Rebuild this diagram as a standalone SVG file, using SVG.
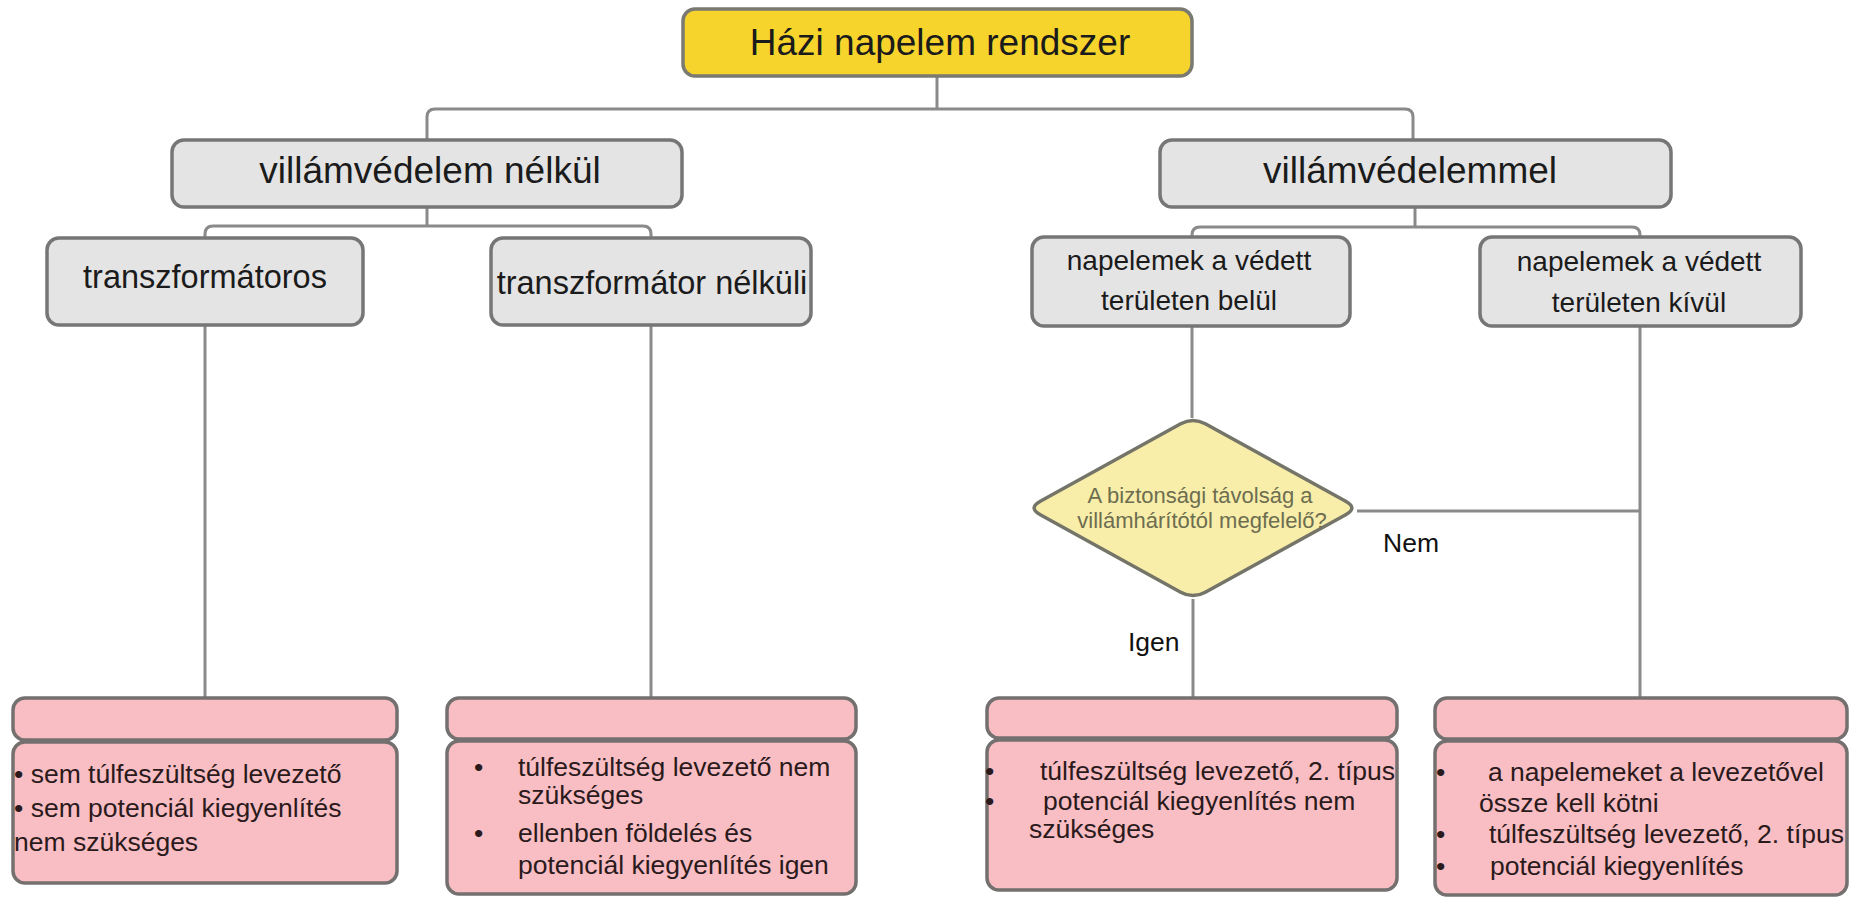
<svg xmlns="http://www.w3.org/2000/svg" width="1851" height="899" viewBox="0 0 1851 899">
<style>
text{font-family:"Liberation Sans",Arial,sans-serif;fill:#1b1b1b}
.c{text-anchor:middle}
.gray{fill:#e4e4e4;stroke:#767676;stroke-width:3.5}
.root{fill:#f6d42c;stroke:#7a7a72;stroke-width:3.5}
.pink{fill:#f9bec3;stroke:#747070;stroke-width:3.5}
.dia{fill:#f8eeaa;stroke:#747468;stroke-width:3.5}
.conn path{fill:none;stroke:#8a8a8a;stroke-width:3}
.t37{font-size:37px}
.t32{font-size:32.5px}
.t28{font-size:28px}
.b{font-size:26.5px;fill:#2a1a1c}
.q{font-size:22px;fill:#6d6d50}
.lbl{font-size:26.5px;fill:#111}
</style>
<rect width="1851" height="899" fill="#ffffff"/>
<g id="connectors" class="conn">
<path d="M937 77V109"/>
<path d="M427 140V117Q427 109 435 109H1405Q1413 109 1413 117V140"/>
<path d="M427 207V226"/>
<path d="M205 238V234Q205 226 213 226H643Q651 226 651 234V238"/>
<path d="M1415 207V227"/>
<path d="M1192 237V235Q1192 227 1200 227H1632Q1640 227 1640 235V237"/>
<path d="M205 325V698"/>
<path d="M651 325V698"/>
<path d="M1192 326V418"/>
<path d="M1193 599V698"/>
<path d="M1640 326V698"/>
<path d="M1357 511H1640"/>
</g>
<g id="root">
<rect class="root" x="683" y="9" width="509" height="67" rx="12"/>
<text class="c t37" x="940" y="55">Házi napelem rendszer</text>
</g>
<g id="n-without">
<rect class="gray" x="172" y="140" width="510" height="67" rx="12"/>
<text class="c t37" x="430" y="183">villámvédelem nélkül</text>
</g>
<g id="n-with">
<rect class="gray" x="1160" y="140" width="511" height="67" rx="12"/>
<text class="c t37" x="1410" y="183">villámvédelemmel</text>
</g>
<g id="n-trafo">
<rect class="gray" x="47" y="238" width="316" height="87" rx="12"/>
<text class="c t32" x="205" y="288">transzformátoros</text>
</g>
<g id="n-notrafo">
<rect class="gray" x="491" y="238" width="320" height="87" rx="12"/>
<text class="c t32" x="652" y="294">transzformátor nélküli</text>
</g>
<g id="n-inside">
<rect class="gray" x="1032" y="237" width="318" height="89" rx="12"/>
<text class="c t28" x="1189" y="270">napelemek a védett</text>
<text class="c t28" x="1189" y="310">területen belül</text>
</g>
<g id="n-outside">
<rect class="gray" x="1480" y="237" width="321" height="89" rx="12"/>
<text class="c t28" x="1639" y="271">napelemek a védett</text>
<text class="c t28" x="1639" y="312">területen kívül</text>
</g>
<g id="decision">
<path class="dia" d="M1180.7 423.8Q1193 417 1205.3 423.8L1345.7 501.2Q1358 508 1345.7 514.8L1205.3 592.2Q1193 599 1180.7 592.2L1040.3 514.8Q1028 508 1040.3 501.2Z"/>
<text class="c q" x="1200" y="503">A biztonsági távolság a</text>
<text class="c q" x="1202" y="528">villámhárítótól megfelelő?</text>
</g>
<g id="labels">
<text class="lbl" x="1383" y="552">Nem</text>
<text class="lbl" x="1128" y="651">Igen</text>
</g>
<g id="r1">
<rect class="pink" x="13" y="698" width="384" height="42" rx="12"/>
<rect class="pink" x="13" y="742" width="384" height="141" rx="12"/>
<text class="b" x="14" y="783">•  sem túlfeszültség levezető</text>
<text class="b" x="14" y="817">•  sem potenciál kiegyenlítés</text>
<text class="b" x="14" y="851">nem szükséges</text>
</g>
<g id="r2">
<rect class="pink" x="447" y="698" width="409" height="41" rx="12"/>
<rect class="pink" x="447" y="741" width="409" height="153" rx="12"/>
<text class="b"><tspan x="474" y="776">•</tspan><tspan x="518" y="776">túlfeszültség levezető nem</tspan></text>
<text class="b" x="518" y="804">szükséges</text>
<text class="b"><tspan x="474" y="842">•</tspan><tspan x="518" y="842">ellenben földelés és</tspan></text>
<text class="b" x="518" y="874">potenciál kiegyenlítés igen</text>
</g>
<g id="r3">
<rect class="pink" x="987" y="698" width="410" height="40" rx="12"/>
<rect class="pink" x="987" y="740" width="410" height="150" rx="12"/>
<text class="b"><tspan x="985" y="780">•</tspan><tspan x="1040" y="780">túlfeszültség levezető, 2. típus</tspan></text>
<text class="b"><tspan x="985" y="810">•</tspan><tspan x="1043" y="810">potenciál kiegyenlítés nem</tspan></text>
<text class="b" x="1029" y="838">szükséges</text>
</g>
<g id="r4">
<rect class="pink" x="1435" y="698" width="412" height="41" rx="12"/>
<rect class="pink" x="1435" y="741" width="412" height="154" rx="12"/>
<text class="b"><tspan x="1436" y="781">•</tspan><tspan x="1488" y="781">a napelemeket a levezetővel</tspan></text>
<text class="b" x="1479" y="812">össze kell kötni</text>
<text class="b"><tspan x="1436" y="843">•</tspan><tspan x="1489" y="843">túlfeszültség levezető, 2. típus</tspan></text>
<text class="b"><tspan x="1436" y="875">•</tspan><tspan x="1490" y="875">potenciál kiegyenlítés</tspan></text>
</g>
</svg>
